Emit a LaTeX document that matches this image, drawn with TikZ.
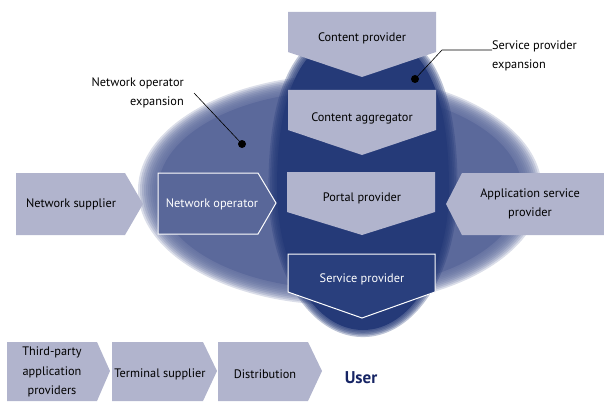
\documentclass[tikz,border=0pt]{standalone}
\usepackage{fontspec}
\setmainfont{PT Sans}
\definecolor{lightbox}{RGB}{177,180,205}
\definecolor{midblue}{RGB}{91,105,155}
\definecolor{darkblue}{RGB}{37,58,120}
\definecolor{netopfill}{RGB}{89,103,153}
\definecolor{spfill}{RGB}{41,63,125}
\definecolor{usercol}{RGB}{22,36,100}
\tikzset{
  lbl/.style={font=\fontsize{12.3}{19.5}\selectfont, text=black, align=center, inner sep=0pt},
  wlbl/.style={lbl, text=white},
  lightshape/.style={fill=lightbox},
  whiteedge/.style={draw=white, line width=1pt},
  leader/.style={draw=black, line width=0.6pt},
  dotmark/.style={circle, fill=black, minimum size=8pt, inner sep=0pt}
}
\newcommand{\darkpath}{(0,-155) .. controls (62,-155) and (86,-95) .. (86,0) .. controls (86,80) and (48,142) .. (0,142) .. controls (-48,142) and (-86,80) .. (-86,0) .. controls (-86,-95) and (-62,-155) .. (0,-155) -- cycle}
\begin{document}
\begin{tikzpicture}[x=1pt,y=-1pt]
\useasboundingbox (0,0) rectangle (604,401);
% big soft ellipse (network operator expansion)
\foreach \k in {10,9,...,1}{
  \pgfmathsetmacro{\rx}{182+2*\k}
  \pgfmathsetmacro{\ry}{99+1.6*\k}
  \fill[midblue, opacity=0.22] (340,190) ellipse [x radius=\rx, y radius=\ry];
}
\fill[midblue] (340,190) ellipse [x radius=182, y radius=99];
% dark soft shape (service provider expansion)
\foreach \k in {1.10,1.08,1.06,1.04,1.02}{
  \begin{scope}[shift={(363,188)}, xscale=\k, yscale=1+(\k-1)*0.5]
  \fill[darkblue, opacity=0.3] \darkpath;
  \end{scope}
}
\begin{scope}[shift={(363,188)}]
\fill[darkblue] \darkpath;
\end{scope}
% central column
\fill[lightshape] (288,12) -- (436,12) -- (436,52) -- (362,77) -- (288,52) -- cycle;
\fill[lightshape] (288,90) -- (436,90) -- (436,130) -- (362,155) -- (288,130) -- cycle;
\fill[lightshape] (287,172) -- (435,172) -- (435,212) -- (362,235) -- (287,212) -- cycle;
\filldraw[fill=spfill, whiteedge] (288,254) -- (435,254) -- (435,292) -- (362,318) -- (288,292) -- cycle;
% side shapes
\fill[lightshape] (16,173) -- (125,173) -- (143,204) -- (125,235) -- (16,235) -- cycle;
\filldraw[fill=netopfill, whiteedge] (158,173) -- (258,173) -- (276,203) -- (258,234) -- (158,234) -- cycle;
\fill[lightshape] (446,204) -- (462,173) -- (604,173) -- (604,235) -- (462,235) -- cycle;
% bottom row
\fill[lightshape] (7,342) -- (97,342) -- (110,371) -- (97,401) -- (7,401) -- cycle;
\fill[lightshape] (112,342) -- (203,342) -- (217,371) -- (203,401) -- (112,401) -- cycle;
\fill[lightshape] (218,342) -- (308,342) -- (322,371) -- (308,401) -- (218,401) -- cycle;
% labels
\node[lbl] (cp) at (362,38) {Content provider};
\node[lbl] (ca) at (362,118) {Content aggregator};
\node[lbl] (pp) at (362,198) {Portal provider};
\node[wlbl] (sp) at (362,279) {Service provider};
\node[lbl] (ns) at (71,204) {Network supplier};
\node[wlbl] (no) at (212,204) {Network operator};
\node[lbl] (asp) at (530,204) {Application service\\provider};
\node[lbl] (tpa) at (52,372) {Third-party\\application\\providers};
\node[lbl] (ts) at (160,374) {Terminal supplier};
\node[lbl] (dist) at (265,374) {Distribution};
\node[font=\fontsize{17}{19}\selectfont\bfseries, text=usercol, inner sep=0pt] (user) at (361,378) {User};
\node[lbl, align=right, anchor=east] (noe) at (184,93) {Network operator\\expansion};
\node[lbl, align=left, anchor=west] (spe) at (492,56) {Service provider\\expansion};
% leaders
\node[dotmark] (nodot) at (242,144) {};
\node[dotmark] (spdot) at (415,79) {};
\coordinate (nostart) at (194,93);
\coordinate (spbend) at (442,50);
\coordinate (spend) at (492,50);
\draw[leader] (nostart) -- (nodot);
\draw[leader] (spdot) -- (spbend) -- (spend);
\end{tikzpicture}
\end{document}
